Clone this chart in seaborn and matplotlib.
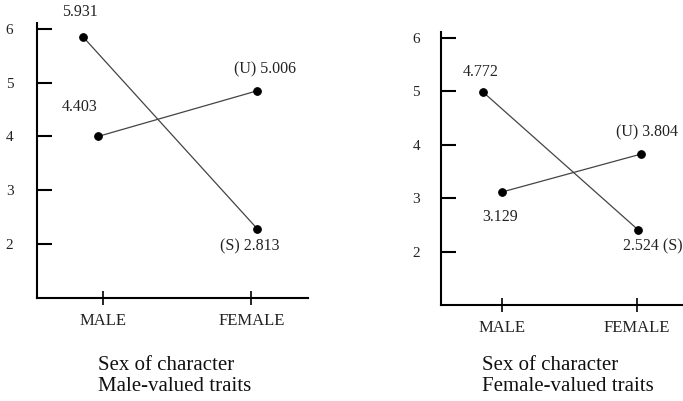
import matplotlib
matplotlib.use("Agg")
import matplotlib.pyplot as plt
import seaborn as sns

sexes = ["MALE", "FEMALE"]
y_ticks = [2, 3, 4, 5, 6]

# Male-valued traits panel (heights as drawn on the original graph)
male_s_x = [-0.13, 1.04]
male_s_y = [5.85, 2.28]
male_s_labels = ["5.931", "(S) 2.813"]
male_u_x = [-0.03, 1.04]
male_u_y = [4.00, 4.85]
male_u_labels = ["4.403", "(U) 5.006"]

# Female-valued traits panel
female_s_x = [-0.14, 1.01]
female_s_y = [4.99, 2.41]
female_s_labels = ["4.772", "2.524 (S)"]
female_u_x = [0.0, 1.03]
female_u_y = [3.12, 3.83]
female_u_labels = ["3.129", "(U) 3.804"]

sns.set_theme(style="white")
plt.rcParams["font.family"] = ["Liberation Serif", "DejaVu Serif"]

fig = plt.figure(figsize=(6.83, 4.01), dpi=100)
ax1 = fig.add_axes([37 / 683, 1 - 298 / 401, 271 / 683, 275 / 401])
ax2 = fig.add_axes([441 / 683, 1 - 305 / 401, 242 / 683, 273 / 401])


def draw_series(ax, xs, ys, labels, offsets):
    sns.lineplot(x=xs, y=ys, ax=ax, color="#444444", linewidth=0.9,
                 marker="o", markersize=5.5, markerfacecolor="black",
                 markeredgecolor="black", sort=False)
    for x, y, lab, off in zip(xs, ys, labels, offsets):
        ax.annotate(lab, (x, y), xytext=off, textcoords="offset pixels",
                    ha="center", va="center", fontsize=11.5, color="#222222")


def style_axes(ax, xlim, ylim, ypad, title, title_x, title_y):
    ax.set_xlim(*xlim)
    ax.set_ylim(*ylim)
    ax.set_xticks([0, 1])
    ax.set_xticklabels(sexes)
    ax.set_yticks(y_ticks)
    for side in ["top", "right"]:
        ax.spines[side].set_visible(False)
    for side in ["left", "bottom"]:
        ax.spines[side].set_linewidth(1.5)
        ax.spines[side].set_color("black")
    ax.tick_params(axis="y", direction="in", length=11, width=1.5,
                   pad=ypad, labelsize=11, colors="black", left=True)
    ax.tick_params(axis="x", direction="inout", length=9.5, width=1.2,
                   pad=6, labelsize=12, colors="black", bottom=True)
    for t in ax.get_xticklabels() + ax.get_yticklabels():
        t.set_color("#222222")
    ax.text(title_x, title_y, title, transform=ax.transAxes, ha="left",
            va="top", fontsize=15, color="#111111", linespacing=1.1)


draw_series(ax1, male_s_x, male_s_y, male_s_labels, [(-3, 25), (-8, -17)])
draw_series(ax1, male_u_x, male_u_y, male_u_labels, [(-18, 29), (8, 21)])
style_axes(ax1, (-0.44, 1.38), (0.995, 6.11), 17,
           "Sex of character\nMale-valued traits", 0.225, -0.212)

draw_series(ax2, female_s_x, female_s_y, female_s_labels, [(-2, 20), (14, -16)])
draw_series(ax2, female_u_x, female_u_y, female_u_labels, [(-2, -25), (6, 22)])
style_axes(ax2, (-0.45, 1.34), (1.01, 6.11), 15,
           "Sex of character\nFemale-valued traits", 0.169, -0.188)

fig.savefig("out.png", dpi=100)
